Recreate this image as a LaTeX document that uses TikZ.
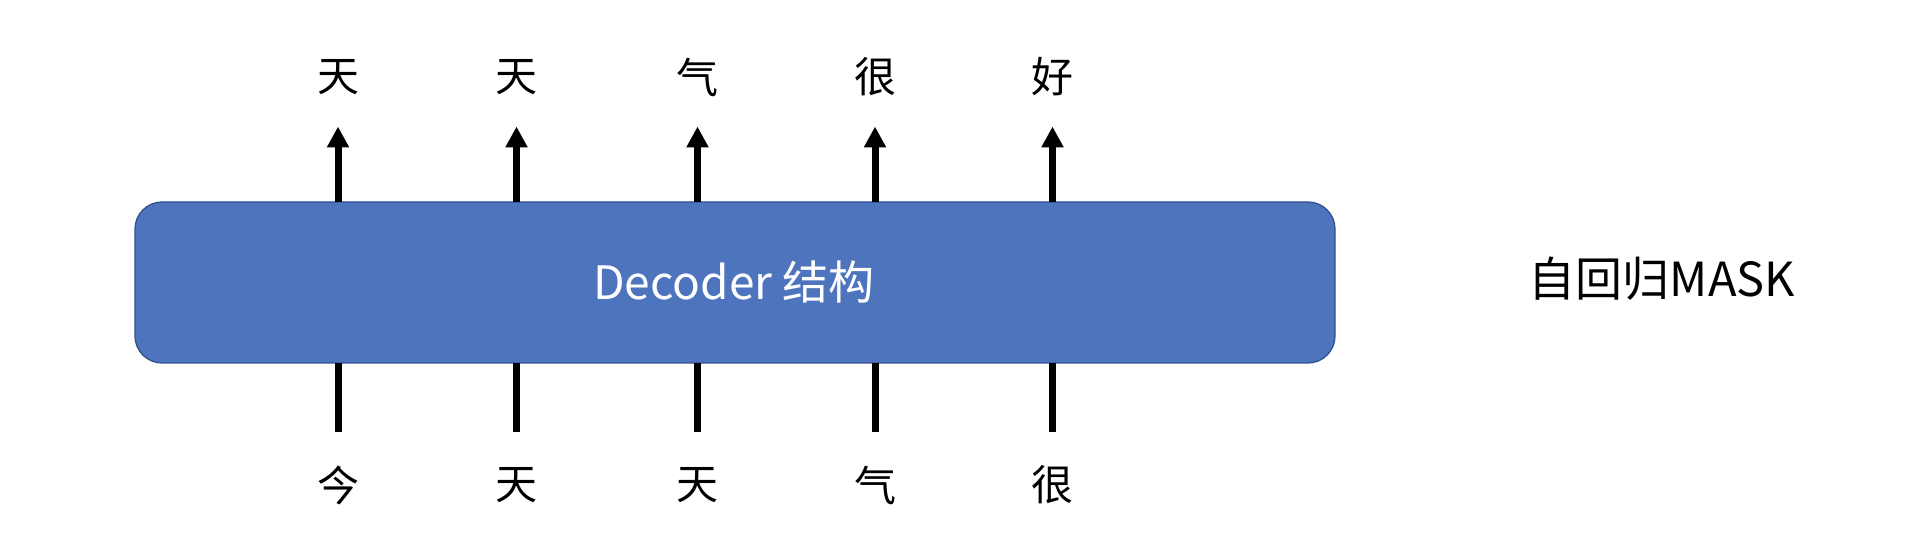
\documentclass[tikz,border=0pt]{standalone}
\usepackage{fontspec}
\setmainfont{Noto Sans CJK SC}
\usetikzlibrary{arrows.meta}
\definecolor{boxfill}{RGB}{78,116,190}
\definecolor{boxline}{RGB}{47,82,143}
\tikzset{
  decbox/.style={draw=boxline, line width=1.3pt, fill=boxfill, rounded corners=27pt},
  tok/.style={inner sep=0pt, font=\fontsize{42}{48}\selectfont},
  uparrow/.style={line width=7pt, -{Triangle[length=21pt,width=21pt]}},
  inline/.style={line width=7pt},
}
\begin{document}
\begin{tikzpicture}[x=1pt,y=-1pt]
\useasboundingbox (0,0) rectangle (1906,534);
\draw[decbox] (135,202) rectangle (1335,363);
\node[inner sep=0pt, text=white, font=\fontsize{46}{54}\selectfont] (dec) at (734,282) {Decoder 结构};
\node[inner sep=0pt, font=\fontsize{47}{56}\selectfont] (mask) at (1662,279) {自回归MASK};
% coordinates
\foreach \i/\x in {1/338,2/516.5,3/697.5,4/875,5/1052.5}{
  \coordinate (top\i) at (\x,202);
  \coordinate (tip\i) at (\x,126.5);
  \coordinate (bot\i) at (\x,363);
  \coordinate (low\i) at (\x,432);
}
% output tokens
\node[tok] (o1) at (338,77) {天};
\node[tok] (o2) at (516.5,77) {天};
\node[tok] (o3) at (697.5,77) {气};
\node[tok] (o4) at (875,77) {很};
\node[tok] (o5) at (1052.5,77) {好};
% input tokens
\node[tok] (i1) at (338,485) {今};
\node[tok] (i2) at (516.5,485) {天};
\node[tok] (i3) at (697.5,485) {天};
\node[tok] (i4) at (875,485) {气};
\node[tok] (i5) at (1052.5,485) {很};
\foreach \i in {1,...,5}{
  \draw[uparrow] (top\i) -- (tip\i);
  \draw[inline] (low\i) -- (bot\i);
}
\end{tikzpicture}
\end{document}
